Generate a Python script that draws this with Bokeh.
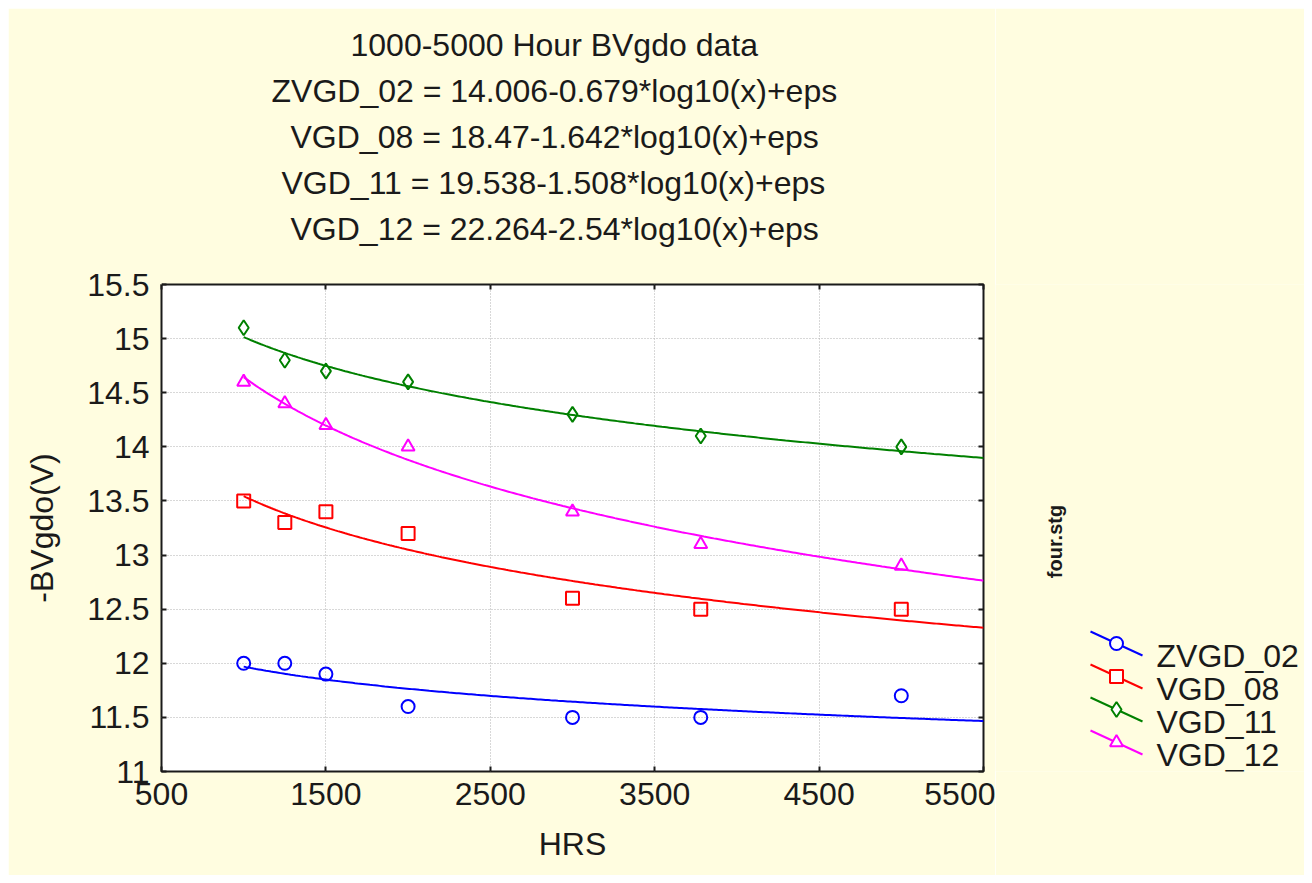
import numpy as np
from bokeh.plotting import figure
from bokeh.models import (Range1d, FixedTicker, LinearAxis, Title, Spacer)
from bokeh.layouts import row, column
from bokeh.embed import file_html
from bokeh.resources import INLINE
from bokeh.core.properties import value

# ---------------- data ----------------
hrs = [1000, 1250, 1500, 2000, 3000, 3780, 5000]
zvgd_02 = [12.0, 12.0, 11.9, 11.6, 11.5, 11.5, 11.7]
vgd_08 = [13.5, 13.3, 13.4, 13.2, 12.6, 12.5, 12.5]
vgd_11 = [15.1, 14.8, 14.7, 14.6, 14.3, 14.1, 14.0]
vgd_12 = [14.6, 14.4, 14.2, 14.0, 13.4, 13.1, 12.9]
series_names = ["ZVGD_02", "VGD_08", "VGD_11", "VGD_12"]
series_values = [zvgd_02, vgd_08, vgd_11, vgd_12]
fit_a = [14.006, 18.47, 19.538, 22.264]
fit_b = [0.679, 1.642, 1.508, 2.54]
fit_x_span = [1000, 5500]
x_ticks = [500, 1500, 2500, 3500, 4500, 5500]
x_tick_labels = ["500", "1500", "2500", "3500", "4500", "5500"]
y_ticks = [11, 11.5, 12, 12.5, 13, 13.5, 14, 14.5, 15, 15.5]
y_tick_labels = ["11", "11.5", "12", "12.5", "13", "13.5", "14", "14.5", "15", "15.5"]
title_lines = [
    "1000-5000 Hour BVgdo data",
    "ZVGD_02 = 14.006-0.679*log10(x)+eps",
    "VGD_08 = 18.47-1.642*log10(x)+eps",
    "VGD_11 = 19.538-1.508*log10(x)+eps",
    "VGD_12 = 22.264-2.54*log10(x)+eps",
]
x_label = "HRS"
y_label = "-BVgdo(V)"
side_note = "four.stg"

# ---------------- style / layout ----------------
BG = "#FFFDE0"
TXT = "#1a1a1a"
FONT = "Liberation Sans"
colors = ["#0000FF", "#FF0000", "#008000", "#FF00FF"]
markers = ["circle", "square", "diamond", "triangle"]
msizes = [13, 13, 15, 13]
title_offsets = [189, 110, 129, 120, 129]   # px from frame left (lines centred near x=554)

W_MAIN, H = 987, 867           # main figure; legend panel fills the rest of 1296
W_LEG = 1296 - W_MAIN
FRAME_TOP, FRAME_BOT = 284, 771  # page y of the plot frame (legend panel frame is aligned to it)
PANEL_X0 = 8 + W_MAIN            # page x where the legend panel starts

p = figure(width=W_MAIN, height=H,
           x_range=Range1d(500, 5500), y_range=Range1d(11, 15.5),
           output_backend="svg", toolbar_location=None, title_location=None,
           min_border_left=153, min_border_right=12,
           min_border_top=276, min_border_bottom=104,
           background_fill_color="white", border_fill_color=BG,
           outline_line_color=TXT, outline_line_width=2)

p.xaxis.ticker = FixedTicker(ticks=x_ticks)
p.yaxis.ticker = FixedTicker(ticks=y_ticks)
p.xaxis.major_label_overrides = {t: l for t, l in zip(x_ticks, x_tick_labels)}
p.yaxis.major_label_overrides = {t: l for t, l in zip(y_ticks, y_tick_labels)}
for ax in (p.xaxis[0], p.yaxis[0]):
    ax.major_label_text_font = FONT
    ax.major_label_text_font_size = "32px"
    ax.major_label_text_color = TXT
    ax.major_tick_in = 5
    ax.major_tick_out = 0
    ax.major_tick_line_color = TXT
    ax.major_tick_line_width = 2
    ax.minor_tick_line_color = None
    ax.axis_line_color = None
    ax.axis_label_text_font = FONT
    ax.axis_label_text_font_size = "32px"
    ax.axis_label_text_font_style = "normal"
    ax.axis_label_text_color = TXT
p.xaxis.major_label_standoff = 11
p.yaxis.major_label_standoff = 12
p.xaxis.axis_label = x_label
p.xaxis.axis_label_standoff = 18
p.yaxis.axis_label = y_label
p.yaxis.axis_label_standoff = 24

p.xgrid.ticker = FixedTicker(ticks=x_ticks)
p.ygrid.ticker = FixedTicker(ticks=y_ticks)
p.grid.grid_line_color = "#b0b0b0"
p.grid.grid_line_dash = "1 2"
p.grid.grid_line_width = 1

fit_x = np.linspace(fit_x_span[0], fit_x_span[1], 300)
for vals, a, b, c, m, s in zip(series_values, fit_a, fit_b, colors, markers, msizes):
    p.line(fit_x, a - b * np.log10(fit_x), line_color=c, line_width=2)
    p.scatter(hrs, vals, marker=m, size=s, line_color=c, fill_color=None, line_width=2)


def mirror_axis(ticks):
    return LinearAxis(ticker=FixedTicker(ticks=ticks), major_tick_in=5, major_tick_out=0,
                      major_tick_line_color=TXT, major_tick_line_width=2,
                      major_label_text_color=None, minor_tick_line_color=None, axis_line_color=None)


p.add_layout(mirror_axis(x_ticks), "above")
gap = LinearAxis(ticker=FixedTicker(ticks=[x_ticks[0]]), major_tick_in=0, major_tick_out=34,
                 major_tick_line_color=BG, major_label_text_color=None,
                 axis_line_color=None, minor_tick_line_color=None)
p.add_layout(gap, "above")
for t, off in reversed(list(zip(title_lines, title_offsets))):
    p.add_layout(Title(text=t, align="left", offset=off, standoff=8, vertical_align="bottom",
                       text_font=FONT, text_font_size="32px", text_font_style="normal",
                       text_color=TXT), "above")
p.add_layout(mirror_axis(y_ticks), "right")

# ---------------- legend panel (own figure, pixel coordinates) ----------------
q = figure(width=W_LEG, height=H,
           x_range=Range1d(0, W_LEG), y_range=Range1d(0, FRAME_BOT - FRAME_TOP),
           output_backend="svg", toolbar_location=None, title_location=None,
           x_axis_location=None, y_axis_location=None,
           min_border=0, background_fill_color=BG, border_fill_color=BG,
           outline_line_color=None)
q.grid.visible = False


def px(page_x):
    return page_x - PANEL_X0


def py(page_y):
    return FRAME_BOT - page_y


LEG_Y0, LEG_DY = 643, 33
for i, (name, c, m, s) in enumerate(zip(series_names, colors, markers, msizes)):
    ym = py(LEG_Y0 + LEG_DY * i)
    q.segment(x0=[px(1090)], y0=[ym + 12], x1=[px(1142)], y1=[ym - 12],
              line_color=c, line_width=2)
    q.scatter([px(1116)], [ym], marker=m, size=s, line_color=c, fill_color="white", line_width=2)
    q.text([px(1156)], [ym - 12], text=[name], text_font=value(FONT), text_font_size="32px",
           text_color=TXT, text_align="left", text_baseline="alphabetic")

q.text([px(1054)], [py(541)], text=[side_note], angle=np.pi / 2,
       text_font=value(FONT), text_font_size="20px", text_font_style="bold",
       text_color=TXT, text_align="center", text_baseline="middle")

layout = row(Spacer(width=8), column(Spacer(height=8), row(p, q)))
open("out.html", "w").write(file_html(layout, INLINE))
